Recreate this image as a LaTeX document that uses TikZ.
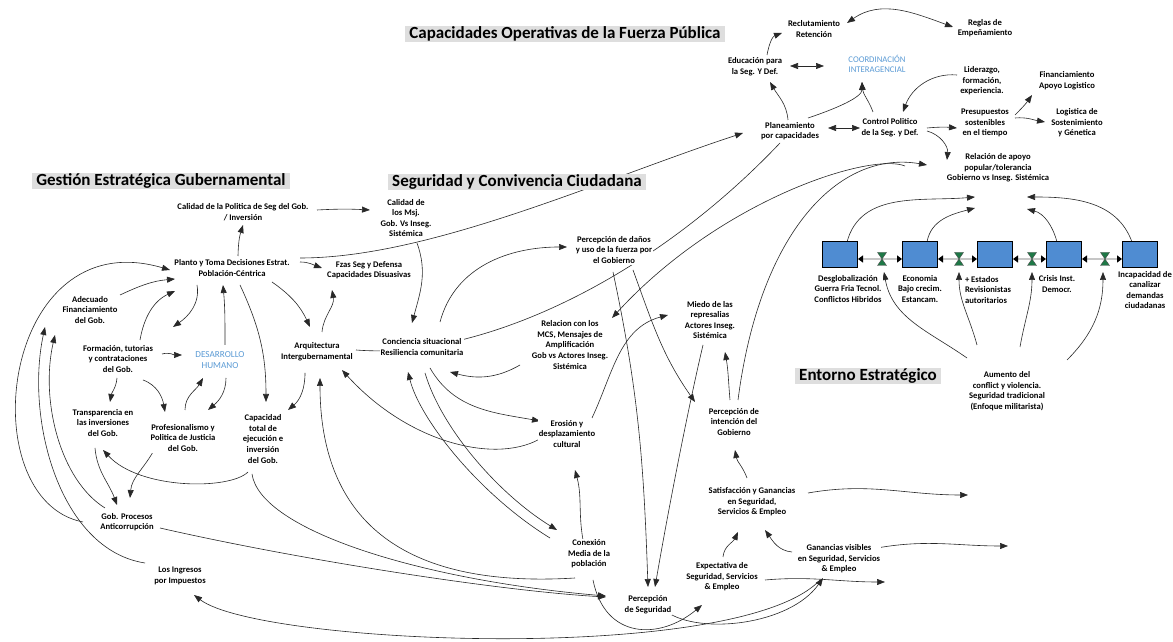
\documentclass[tikz,border=0pt]{standalone}
\usepackage{fontspec}
\setmainfont{Carlito}
\usetikzlibrary{arrows.meta}
\pgfdeclarelayer{bg}
\pgfsetlayers{bg,main}
\definecolor{lblue}{RGB}{91,155,213}
\definecolor{bxblue}{RGB}{79,140,210}
\definecolor{vgreen}{RGB}{30,120,70}
\definecolor{tgray}{RGB}{222,222,222}
\definecolor{lncol}{RGB}{40,40,40}
\tikzset{
 lbl/.style={font=\bfseries\fontsize{8.6}{10.6}\selectfont, align=center, inner sep=1pt, fill=white, text=black},
 bl/.style={font=\fontsize{9.2}{11.5}\selectfont, align=center, inner sep=1pt, fill=white, text=lblue},
 ttl/.style={font=\bfseries\fontsize{17}{19}\selectfont, fill=tgray, inner xsep=4pt, inner ysep=0.5pt, text=black},
 con/.style={draw=lncol, line width=0.6pt, -{Triangle[length=8pt,width=6pt]}},
 dbl/.style={draw=lncol, line width=0.6pt, {Triangle[length=8pt,width=6pt]}-{Triangle[length=8pt,width=6pt]}},
 ln/.style={draw=lncol, line width=0.6pt},
 bx/.style={draw=black, line width=1pt, fill=bxblue, minimum width=35pt, minimum height=26pt, inner sep=0pt},
 pipe/.style={draw=gray!45, line width=2.5pt, {Triangle[length=5pt,width=7pt,black]}-{Triangle[length=5pt,width=7pt,black]}},
 vlv/.style={fill=vgreen, draw=black!70, line width=0.4pt}
}
\begin{document}
\begin{tikzpicture}[x=1pt,y=1pt]
\useasboundingbox (0,0) rectangle (1173,642);
\begin{pgfonlayer}{bg}
\fill[white] (0,0) rectangle (1173,642);
\end{pgfonlayer}
% titles
\node[ttl] (tCap) at (565,608) {Capacidades Operativas de la Fuerza Pública};
\node[ttl] (tGes) at (161,461) {Gestión Estratégica Gubernamental};
\node[ttl] (tSeg) at (517,460) {Seguridad y Convivencia Ciudadana};
\node[ttl] (tEnt) at (868,266) {Entorno Estratégico};
% left group
\node[lbl] (calpol) at (243,430) {Calidad de la Politica de Seg del Gob.\\/ Inversión};
\node[lbl] (planto) at (232,374) {Planto y Toma Decisiones Estrat.\\Población-Céntrica};
\node[lbl] (adec) at (90,332) {Adecuado\\Financiamiento\\del Gob.};
\node[lbl] (form) at (118,283) {Formación, tutorias\\y contrataciones\\del Gob.};
\node[bl] (desa) at (220,282) {DESARROLLO\\HUMANO};
\node[lbl] (transp) at (103,219) {Transparencia en\\las inversiones\\del  Gob.};
\node[lbl] (prof) at (183,204) {Profesionalismo y\\Politica de Justicia\\del Gob.};
\node[lbl] (capt) at (263,203) {Capacidad\\total  de\\ejecución e\\inversión\\del Gob.};
\node[lbl] (gobp) at (127,120) {Gob. Procesos\\Anticorrupción};
\node[lbl] (ingr) at (180,66) {Los Ingresos\\por Impuestos};
\node[lbl] (arq) at (317,290) {Arquitectura\\Intergubernamental};
\node[lbl] (fzas) at (369,372) {Fzas Seg y Defensa\\Capacidades Disuasivas};
% middle
\node[lbl] (calmsj) at (406,424) {Calidad de\\los Msj.\\Gob. Vs Inseg.\\Sistémica};
\node[lbl] (conc) at (422,295) {Conciencia situacional\\Resiliencia comunitaria};
\node[lbl] (pdan) at (614,392) {Percepción de daños\\y uso de la fuerza por\\el Gobierno};
\node[lbl] (rmcs) at (570,297) {Relacion con los\\MCS, Mensajes de\\Amplificación\\Gob vs Actores Inseg.\\Sistémica};
\node[lbl] (miedo) at (710,322) {Miedo de las\\represalias\\Actores Inseg.\\Sistémica};
\node[lbl] (eros) at (567,208) {Erosión y\\desplazamiento\\cultural};
\node[lbl] (conex) at (589,88) {Conexión\\Media de la\\población};
\node[lbl] (pseg) at (648,37) {Percepción\\de Seguridad};
\node[lbl] (expec) at (722,65) {Expectativa de\\Seguridad, Servicios\\\& Empleo};
\node[lbl] (ganv) at (839,83) {Ganancias visibles\\en Seguridad, Servicios\\\& Empleo};
\node[lbl] (satis) at (752,140) {Satisfacción y Ganancias\\en Seguridad,\\Servicios \& Empleo};
\node[lbl] (pint) at (734,220) {Percepción de\\intención del\\Gobierno};
% top right
\node[lbl] (recl) at (814,613) {Reclutamiento\\Retención};
\node[lbl] (regl) at (985,614) {Reglas de\\Empeñamiento};
\node[lbl] (educ) at (755,575) {Educación para\\la Seg. Y Def.};
\node[bl,font=\fontsize{8.7}{10.6}\selectfont] (coord) at (877,578) {COORDINACIÓN\\INTERAGENCIAL};
\node[lbl] (lider) at (982,561) {Liderazgo,\\formación,\\experiencia.};
\node[lbl] (finan) at (1067,561) {Financiamiento\\Apoyo Logistico};
\node[lbl] (presu) at (985,519) {Presupuestos\\sostenibles\\en el tiempo};
\node[lbl] (logis) at (1077,519) {Logistica de\\Sostenimiento\\y Génetica};
\node[lbl,fill=none] (relap) at (998,474) {Relación  de apoyo\\popular/tolerancia\\Gobierno vs Inseg. Sistémica};
\node[lbl] (plane) at (790,511) {Planeamiento\\por capacidades};
\node[lbl] (contr) at (890,514) {Control Politico\\de la Seg. y Def.};
% entorno
\node[bx] (b1) at (840,387) {};
\node[bx] (b2) at (920,387) {};
\node[bx] (b3) at (995,387) {};
\node[bx] (b4) at (1064,387) {};
\node[bx] (b5) at (1140,387) {};
\node[lbl] (e1) at (848,353) {Desglobalización\\Guerra Fria Tecnol.\\Conflictos Hibridos};
\node[lbl] (e2) at (920,353) {Economia\\Bajo crecim.\\Estancam.};
\node[lbl,align=left] (e3) at (988,352) {+ Estados\\Revisionistas\\autoritarios};
\node[lbl] (e4) at (1057,358) {Crisis Inst.\\Democr.};
\node[lbl] (e5) at (1145,352) {Incapacidad de\\canalizar\\demandas\\ciudadanas};
\node[lbl] (aum) at (1007,251) {Aumento del\\conflict y violencia.\\Seguridad tradicional\\(Enfoque militarista)};
\coordinate (v1) at (882,383);
\coordinate (v2) at (959,383);
\coordinate (v3) at (1032,383);
\coordinate (v4) at (1105,383);
\coordinate (satEnd) at (968,147);
\coordinate (ganEnd) at (1008,96);
\coordinate (expEnd) at (885,60);
% pipes and valves
\draw[pipe] ([yshift=-4]b1.east) -- ([yshift=-4]b2.west);
\draw[pipe] ([yshift=-4]b2.east) -- ([yshift=-4]b3.west);
\draw[pipe] ([yshift=-4]b3.east) -- ([yshift=-4]b4.west);
\draw[pipe] ([yshift=-4]b4.east) -- ([yshift=-4]b5.west);
\foreach \v in {v1,v2,v3,v4}{
 \draw[vlv] ([shift={(-4.5,6.5)}]\v) -- ++(9,0) -- ++(-9,-13) -- ++(9,0) -- cycle;
}
\begin{pgfonlayer}{bg}
% left group
\draw[con] ([shift={(6,12)}]planto.center) to[bend left=8] ([shift={(0,-13)}]calpol.center);
\draw[con] ([shift={(74,2)}]calpol.center) to[bend left=3] ([shift={(-36,8)}]calmsj.center);
\draw[con] ([shift={(68,6)}]planto.center) to[out=0,in=160] ([shift={(-47,2)}]fzas.center);
\draw[con] ([shift={(68,10)}]planto.center) .. controls +(130,0) and +(-143,-47) .. ([shift={(-47,-2)}]plane.center);
\draw[ln] ([shift={(39,2)}]arq.center) .. controls +(124,-10) and +(-130,-137) .. ([shift={(-10,-12)}]plane.center);
\draw[con] ([shift={(-44,0)}]gobp.center) .. controls +(-113,22) and +(-170,50) .. ([shift={(-62,-2)}]planto.center);
\draw[con] ([shift={(-22,14)}]gobp.center) .. controls +(-45,28) and +(-15,-65) .. ([shift={(-35,-25)}]adec.center);
\draw[con] ([shift={(-35,13)}]ingr.center) .. controls +(-85,13) and +(-20,-93) .. ([shift={(-45,-17)}]adec.center);
\draw[con] ([shift={(-8,-25)}]transp.center) to[out=-85,in=110] ([shift={(-10,17)}]gobp.center);
\draw[con] ([shift={(-30,-14)}]prof.center) to[out=-120,in=85] ([shift={(3,24)}]gobp.center);
\draw[con] ([shift={(-1,-19)}]form.center) to[out=-95,in=80] ([shift={(7,21)}]transp.center);
\draw[con] ([shift={(25,-21)}]form.center) to[out=-20,in=100] ([shift={(-18,26)}]prof.center);
\draw[con] ([shift={(44,5)}]form.center) to[out=15,in=180] ([shift={(-38,5)}]desa.center);
\draw[con] ([shift={(2,28)}]prof.center) to[out=90,in=-120] ([shift={(-17,-18)}]desa.center);
\draw[con] ([shift={(6,-18)}]desa.center) to[out=-90,in=40] ([shift={(25,28)}]prof.center);
\draw[con] ([shift={(5,15)}]desa.center) to[out=90,in=-85] ([shift={(-9,-17)}]planto.center);
\draw[con] ([shift={(30,15)}]adec.center) to[out=25,in=185] ([shift={(-57,-11)}]planto.center);
\draw[con] ([shift={(22,19)}]form.center) to[out=80,in=205] ([shift={(-57,-23)}]planto.center);
\draw[con] ([shift={(-35,-17)}]planto.center) to[out=-80,in=35] ([shift={(55,32)}]form.center);
\draw[con] ([shift={(8,-17)}]planto.center) to[out=-65,in=90] ([shift={(3,37)}]capt.center);
\draw[con] ([shift={(40,-14)}]planto.center) to[out=-35,in=115] ([shift={(-7,25)}]arq.center);
\draw[con] ([shift={(5,20)}]arq.center) to[out=85,in=-80] ([shift={(-37,-20)}]fzas.center);
\draw[con] ([shift={(-12,-21)}]arq.center) to[out=-90,in=40] ([shift={(25,29)}]capt.center);
\draw[con] ([shift={(-15,-33)}]capt.center) .. controls +(-18,-18) and +(37,-40) .. ([shift={(0,-27)}]transp.center);
\draw[con] ([shift={(-11,-35)}]capt.center) .. controls +(8,-56) and +(-186,16) .. ([shift={(-42,9)}]pseg.center);
\draw[con] ([shift={(33,-6)}]gobp.center) .. controls +(140,-32) and +(-106,6) .. ([shift={(-42,8)}]pseg.center);
% middle
\draw[con] ([shift={(-39,16)}]conex.center) .. controls +(-70,43) and +(12,-48) .. ([shift={(-14,-25)}]conc.center);
\draw[con] ([shift={(3,-26)}]conc.center) .. controls +(17,-57) and +(-57,35) .. ([shift={(-32,24)}]conex.center);
\draw[con] ([shift={(-14,-24)}]conex.center) .. controls +(-195,-12) and +(0,-122) .. ([shift={(3,-26)}]arq.center);
\draw[con] ([shift={(11,-25)}]calmsj.center) to[out=-70,in=75] ([shift={(-10,24)}]conc.center);
\draw[con] ([shift={(18,25)}]conc.center) to[out=75,in=180] ([shift={(-47,3)}]pdan.center);
\draw[con] ([shift={(-50,-20)}]rmcs.center) to[out=-150,in=-15] ([shift={(28,-25)}]conc.center);
\draw[con] ([shift={(8,-21)}]conc.center) to[out=-60,in=170] ([shift={(-27,13)}]eros.center);
\draw[con] ([shift={(-24,-3)}]eros.center) .. controls +(-43,-28) and +(68,-75) .. ([shift={(25,-18)}]arq.center);
\draw[con] ([shift={(-6,14)}]conex.center) to[out=100,in=-75] ([shift={(8,-36)}]eros.center);
\draw[con] ([shift={(25,16)}]eros.center) to[out=65,in=195] ([shift={(-42,5)}]miedo.center);
\draw[con] ([shift={(-1,-22)}]pdan.center) to[out=-78,in=92] ([shift={(0,18)}]pseg.center);
\draw[con] ([shift={(19,-20)}]pdan.center) to[out=-70,in=125] ([shift={(-39,20)}]pint.center);
\draw[con] ([shift={(-7,-25)}]miedo.center) .. controls +(-13,-55) and +(15,87) .. ([shift={(7,18)}]pseg.center);
\draw[con] ([shift={(-4,22)}]pint.center) to[out=95,in=-80] ([shift={(15,-32)}]miedo.center);
\draw[con] ([shift={(4,22)}]pint.center) .. controls +(22,170) and +(-87,15) .. ([shift={(-71,3)}]relap.center);
\draw[con] ([shift={(-93,2)}]relap.center) .. controls +(-35,14) and +(108,118) .. ([shift={(42,27)}]rmcs.center);
\draw[con] ([shift={(-5,24)}]satis.center) to[out=110,in=-80] ([shift={(1,-28)}]pint.center);
\draw[con] ([shift={(1,20)}]expec.center) to[out=85,in=-115] ([shift={(-14,-30)}]satis.center);
\draw[con] ([shift={(-47,7)}]ganv.center) to[out=175,in=-55] ([shift={(13,-28)}]satis.center);
\draw[con] ([shift={(56,9)}]satis.center) to[out=10,in=180] (satEnd);
\draw[con] ([shift={(38,11)}]ganv.center) to[out=10,in=180] (ganEnd);
\draw[con] ([shift={(43,-3)}]expec.center) to[out=5,in=180] (expEnd);
\draw[con] ([shift={(4,-26)}]conex.center) .. controls +(12,-60) and +(-42,-35) .. ([shift={(-20,-28)}]expec.center);
\draw[con] ([shift={(19,-7)}]pseg.center) .. controls +(33,-23) and +(-33,-47) .. ([shift={(-16,-19)}]ganv.center);
\draw[con] ([shift={(-19,-21)}]ganv.center) .. controls +(-80,-85) and +(66,-50) .. ([shift={(14,-19)}]ingr.center);
% top right
\draw[con] ([shift={(-2,11)}]plane.center) to[out=95,in=-60] ([shift={(15,-15)}]educ.center);
\draw[con] ([shift={(12,12)}]educ.center) to[out=80,in=200] ([shift={(-32,-4)}]recl.center);
\draw[dbl] ([shift={(35,1)}]educ.center) -- ([shift={(-53,-2)}]coord.center);
\draw[dbl] ([shift={(33,6)}]recl.center) to[out=35,in=160] ([shift={(-32,1)}]regl.center);
\draw[con] ([shift={(-17,16)}]contr.center) to[out=110,in=-85] ([shift={(-15,-18)}]coord.center);
\draw[con] ([shift={(18,13)}]plane.center) .. controls +(30,10) and +(0,-15) .. ([shift={(-15,-18)}]coord.center);
\draw[dbl] ([shift={(38,3)}]plane.center) -- ([shift={(-30,0)}]contr.center);
\draw[con] ([shift={(-25,6)}]lider.center) to[out=175,in=70] ([shift={(13,16)}]contr.center);
\draw[con] ([shift={(37,0)}]contr.center) to[bend left=5] ([shift={(-28,-5)}]presu.center);
\draw[con] ([shift={(37,-3)}]contr.center) to[out=-15,in=85] ([shift={(-51,8)}]relap.center);
\draw[con] ([shift={(30,8)}]presu.center) to[out=45,in=-125] ([shift={(-35,-14)}]finan.center);
\draw[con] ([shift={(30,5)}]presu.center) to[out=5,in=170] ([shift={(-32,1)}]logis.center);
% entorno
\draw[con] ([shift={(7,13)}]b1.center) to[out=75,in=185] ([shift={(-23,-29)}]relap.center);
\draw[con] ([shift={(7,13)}]b2.center) to[out=80,in=195] ([shift={(-23,-40)}]relap.center);
\draw[con] ([shift={(-7,13)}]b4.center) to[out=105,in=-15] ([shift={(29,-41)}]relap.center);
\draw[con] ([shift={(-8,13)}]b5.center) to[out=110,in=0] ([shift={(29,-29)}]relap.center);
\draw[con] ([shift={(-40,33)}]aum.center) to[out=145,in=-80] ([shift={(2,-13)}]v1);
\draw[con] ([shift={(-30,46)}]aum.center) to[out=105,in=-90] ([shift={(0,-13)}]v2);
\draw[con] ([shift={(13,44)}]aum.center) to[out=80,in=-90] ([shift={(0,-13)}]v3);
\draw[con] ([shift={(60,31)}]aum.center) to[out=45,in=-90] ([shift={(-2,-13)}]v4);
\end{pgfonlayer}
\end{tikzpicture}
\end{document}
